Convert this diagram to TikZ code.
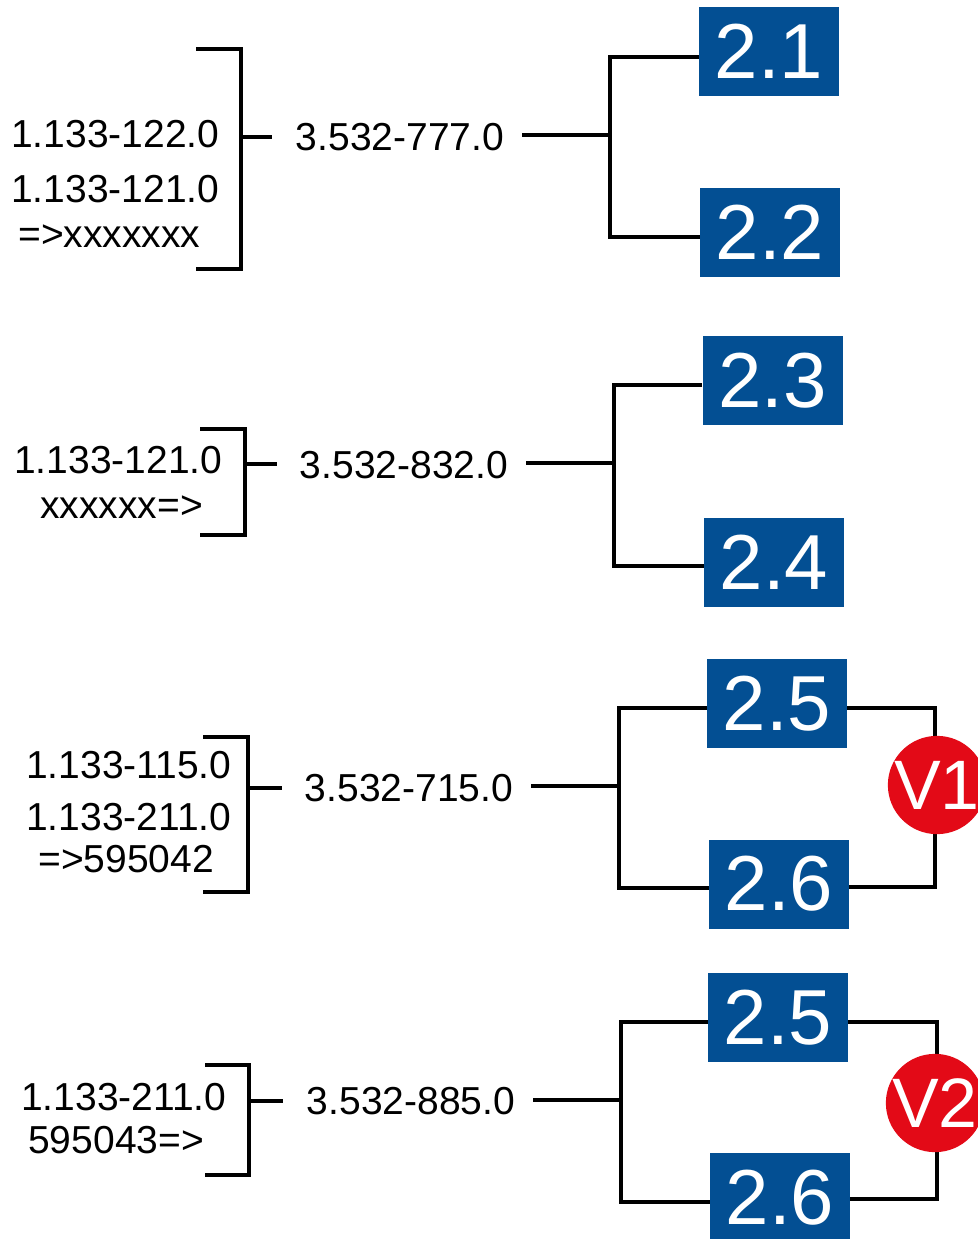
\documentclass[tikz,border=0pt]{standalone}
\usepackage{fontspec}
\setmainfont{Liberation Sans}
\definecolor{boxblue}{HTML}{034F93}
\definecolor{vred}{HTML}{E30A17}
\begin{document}
\begin{tikzpicture}[x=0.75pt,y=-0.75pt,
  ln/.style={line width=2.6pt, line join=miter},
  small/.style={font=\fontsize{29.25pt}{31pt}\selectfont, inner sep=0pt, anchor=base west},
  mid/.style={font=\fontsize{29.25pt}{31pt}\selectfont, inner ysep=0pt, inner xsep=13.5pt, anchor=base},
  num/.style={fill=boxblue, text=white, minimum width=105pt, minimum height=66.75pt, inner sep=0pt, font=\fontsize{58.5pt}{60pt}\selectfont},
  vc/.style={circle, fill=vred, text=white, minimum size=72pt, inner sep=0pt, font=\fontsize{52.5pt}{54pt}\selectfont}
]
\useasboundingbox (0,0) rectangle (978,1239);

% ---------- group 1 ----------
\node[small] (a1) at (11,147) {1.133-122.0};
\node[small] (a2) at (11,202) {1.133-121.0};
\node[small] (a3) at (18,247) {=>xxxxxxx};
\draw[ln] (196,49) -- (241,49) -- (241,269) -- (196,269);
\coordinate (k1) at (241,137);
\coordinate (s1) at (272,137);
\draw[ln] (k1) -- (s1);
\node[mid] (m1) at (400,150) {3.532-777.0};
\node[num] (b21) at (769,51.5) {2.1};
\node[num] (b22) at (770,232.5) {2.2};
\coordinate (j1) at (610,135);
\coordinate (t1) at (610,57);
\coordinate (u1) at (610,237);
\draw[ln] (m1.east |- j1) -- (j1);
\draw[ln] (b21.west |- t1) -- (t1) -- (u1) -- (b22.west |- u1);

% ---------- group 2 ----------
\node[small] (c1) at (14,473) {1.133-121.0};
\node[small] (c2) at (40,518) {xxxxxx=>};
\draw[ln] (200,429) -- (245,429) -- (245,535) -- (200,535);
\coordinate (k2) at (245,464);
\coordinate (s2) at (277,464);
\draw[ln] (k2) -- (s2);
\node[mid] (m2) at (404,478) {3.532-832.0};
\node[num] (b23) at (772.5,380.5) {2.3};
\node[num] (b24) at (774,562) {2.4};
\coordinate (j2) at (614,463);
\coordinate (t2) at (614,385);
\coordinate (u2) at (614,566);
\draw[ln] (m2.east |- j2) -- (j2);
\draw[ln] (b23.west |- t2) -- (t2) -- (u2) -- (b24.west |- u2);

% ---------- group 3 ----------
\node[small] (d1) at (26,778) {1.133-115.0};
\node[small] (d2) at (26,830) {1.133-211.0};
\node[small] (d3) at (38,872) {=>595042};
\draw[ln] (203,737) -- (248,737) -- (248,892) -- (203,892);
\coordinate (k3) at (248,788);
\coordinate (s3) at (282,788);
\draw[ln] (k3) -- (s3);
\node[mid] (m3) at (409,801) {3.532-715.0};
\node[num] (b25) at (777,703.5) {2.5};
\node[num] (b26) at (779,884) {2.6};
\coordinate (j3) at (619,786);
\coordinate (t3) at (619,708);
\coordinate (u3) at (619,888);
\coordinate (r3t) at (935,708);
\coordinate (r3b) at (935,887);
\draw[ln] (m3.east |- j3) -- (j3);
\draw[ln] (b25.west |- t3) -- (t3) -- (u3) -- (b26.west |- u3);
\draw[ln] (b25.east |- r3t) -- (r3t) -- (r3b) -- (b26.east |- r3b);
\node[vc] (v1) at (937,785) {V1};

% ---------- group 4 ----------
\node[small] (e1) at (21,1110) {1.133-211.0};
\node[small] (e2) at (28,1153) {595043=>};
\draw[ln] (205,1065) -- (249,1065) -- (249,1175) -- (205,1175);
\coordinate (k4) at (249,1101);
\coordinate (s4) at (283,1101);
\draw[ln] (k4) -- (s4);
\node[mid] (m4) at (411,1114) {3.532-885.0};
\node[num] (b27) at (778,1017.5) {2.5};
\node[num] (b28) at (780,1197.5) {2.6};
\coordinate (j4) at (621,1100);
\coordinate (t4) at (621,1022);
\coordinate (u4) at (621,1202);
\coordinate (r4t) at (937,1022);
\coordinate (r4b) at (937,1199);
\draw[ln] (m4.east |- j4) -- (j4);
\draw[ln] (b27.west |- t4) -- (t4) -- (u4) -- (b28.west |- u4);
\draw[ln] (b27.east |- r4t) -- (r4t) -- (r4b) -- (b28.east |- r4b);
\node[vc] (v2) at (935,1103) {V2};
\end{tikzpicture}
\end{document}
